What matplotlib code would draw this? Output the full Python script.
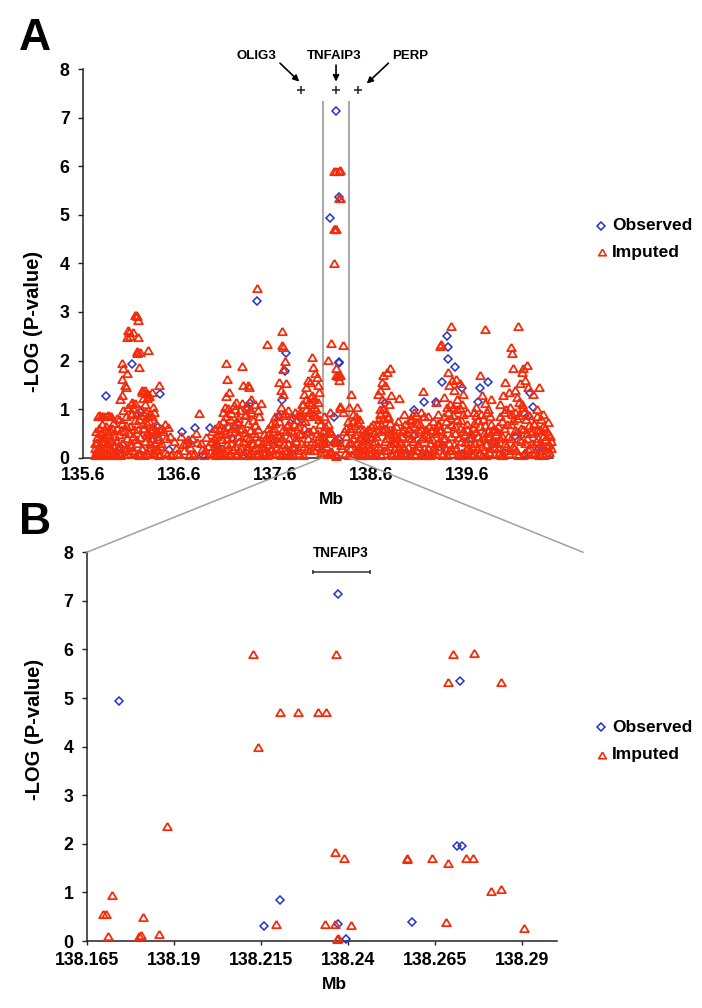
import matplotlib
matplotlib.use('Agg')
import matplotlib.pyplot as plt
from matplotlib.lines import Line2D
from matplotlib.patches import ConnectionPatch

plt.rcParams['font.family'] = ['Liberation Sans', 'DejaVu Sans']
plt.rcParams['font.weight'] = 'bold'

# ---------------- panel A data (Mb, -log10 p) ----------------
obs_a_mb = [135.836, 136.114, 136.403, 136.194, 136.386, 136.630, 136.770, 136.920, 137.418, 137.338,
            137.115, 137.220, 137.310, 137.713, 137.706, 137.672, 137.644, 137.793, 137.870, 138.749,
            139.159, 139.051, 139.281, 139.399, 139.410, 139.410, 139.479, 139.340, 139.548, 139.440,
            139.827, 139.740, 139.722, 140.261, 140.289, 140.240,
            135.750, 135.900, 136.000, 136.200, 136.300, 136.500, 136.700, 136.850, 137.000, 137.150,
            137.300, 137.500, 137.600, 137.800, 137.950, 138.050, 138.450, 138.550, 138.650, 138.850,
            138.950, 139.050, 139.200, 139.350, 139.550, 139.650, 139.750, 139.900, 140.000, 140.100,
            140.200, 140.350, 140.450]
obs_a_lp = [1.27, 1.93, 1.32, 0.95, 0.64, 0.52, 0.62, 0.62, 3.22, 1.12,
            0.64, 0.70, 1.05, 2.15, 1.78, 1.19, 0.86, 0.82, 0.79, 1.12,
            1.15, 0.99, 1.15, 2.50, 2.28, 2.03, 1.86, 1.55, 1.43, 0.78,
            1.56, 1.43, 1.15, 1.34, 1.05, 0.85,
            0.10, 0.30, 0.20, 0.05, 0.45, 0.15, 0.30, 0.05, 0.25, 0.40,
            0.10, 0.05, 0.35, 0.15, 0.50, 0.20, 0.10, 0.40, 0.05, 0.30,
            0.05, 0.45, 0.05, 0.25, 0.08, 0.40, 0.05, 0.30, 0.10, 0.45,
            0.05, 0.20, 0.10]

imp_a_mb = [
    # 135.72 - 135.92
    135.72, 135.73, 135.74, 135.75, 135.76, 135.77, 135.78, 135.79, 135.80, 135.81,
    135.82, 135.83, 135.84, 135.85, 135.86, 135.87, 135.88, 135.89, 135.90, 135.91,
    135.725, 135.735, 135.745, 135.755, 135.765, 135.775, 135.785, 135.795, 135.805, 135.815,
    135.825, 135.835, 135.845, 135.855, 135.865, 135.875, 135.885, 135.895, 135.905, 135.915,
    135.755, 135.77, 135.785, 135.80, 135.815, 135.85, 135.865, 135.88, 135.895, 135.95,
    # 135.93 - 136.40 peak
    136.142, 136.150, 136.160, 136.170, 136.073, 136.080, 136.055, 136.090, 136.125, 136.177,
    136.194, 136.160, 136.165, 136.281, 136.003, 136.020, 136.055, 136.003, 136.038, 136.045,
    136.187, 136.392, 136.212, 136.220, 136.246, 136.255, 136.281, 136.290, 136.316, 136.228,
    136.263, 136.125, 136.100, 136.330, 136.340, 136.300, 136.270, 135.985, 136.010, 136.110,
    135.930, 135.942, 135.954, 135.966, 135.978, 135.990, 136.002, 136.014, 136.026, 136.038,
    136.050, 136.062, 136.074, 136.086, 136.098, 136.110, 136.122, 136.134, 136.146, 136.158,
    136.170, 136.182, 136.194, 136.206, 136.218, 136.230, 136.242, 136.254, 136.266, 136.278,
    136.290, 136.302, 136.314, 136.326, 136.338, 136.350, 136.362, 136.374, 136.386, 136.398,
    135.936, 135.948, 135.960, 135.972, 135.984, 135.996, 136.008, 136.020, 136.032, 136.044,
    136.056, 136.068, 136.080, 136.092, 136.104, 136.116, 136.128, 136.140, 136.152, 136.164,
    136.176, 136.188, 136.200, 136.212, 136.224, 136.236, 136.248, 136.260, 136.272, 136.284,
    136.296, 136.308, 136.320, 136.332, 136.344, 136.356, 136.368, 136.380, 136.392, 136.404,
    # 136.41 - 136.95
    136.41, 136.43, 136.45, 136.47, 136.49, 136.52, 136.55, 136.57, 136.60, 136.62,
    136.65, 136.67, 136.70, 136.72, 136.74, 136.76, 136.79, 136.81, 136.84, 136.86,
    136.88, 136.90, 136.92, 136.94, 136.42, 136.46, 136.48, 136.51, 136.58, 136.64,
    136.69, 136.75, 136.78, 136.83, 136.87, 136.93,
    # 136.96 - 137.45
    137.088, 137.105, 137.122, 137.095, 137.080, 137.261, 137.272, 137.324, 137.330, 137.453,
    137.411, 137.350, 137.200, 137.180, 137.300, 137.390, 137.420,
    136.960, 136.972, 136.984, 136.996, 137.008, 137.020, 137.032, 137.044, 137.056, 137.068,
    137.080, 137.092, 137.104, 137.116, 137.128, 137.140, 137.152, 137.164, 137.176, 137.188,
    137.200, 137.212, 137.224, 137.236, 137.248, 137.260, 137.272, 137.284, 137.296, 137.308,
    137.320, 137.332, 137.344, 137.356, 137.368, 137.380, 137.392, 137.404, 137.416, 137.428,
    136.966, 136.978, 136.990, 137.002, 137.014, 137.026, 137.038, 137.050, 137.062, 137.074,
    137.086, 137.098, 137.110, 137.122, 137.134, 137.146, 137.158, 137.170, 137.182, 137.194,
    137.206, 137.218, 137.230, 137.242, 137.254, 137.266, 137.278, 137.290, 137.302, 137.314,
    137.326, 137.338, 137.350, 137.362, 137.374, 137.386, 137.398, 137.410, 137.422, 137.434,
    # 137.46 - 138.10
    137.515, 137.679, 137.672, 137.689, 137.706, 137.682, 137.647, 137.717, 137.682, 137.660,
    137.741, 137.900, 137.930, 137.950, 137.984, 138.000, 138.020, 138.035, 137.970, 138.050,
    138.060, 137.990, 138.010, 137.960, 137.880, 137.860, 137.560, 137.600,
    137.460, 137.473, 137.486, 137.499, 137.512, 137.525, 137.538, 137.551, 137.564, 137.577,
    137.590, 137.603, 137.616, 137.629, 137.642, 137.655, 137.668, 137.681, 137.694, 137.707,
    137.720, 137.733, 137.746, 137.759, 137.772, 137.785, 137.798, 137.811, 137.824, 137.837,
    137.850, 137.863, 137.876, 137.889, 137.902, 137.915, 137.928, 137.941, 137.954, 137.967,
    137.980, 137.993, 138.006, 138.019, 138.032, 138.045, 138.058, 138.071, 138.084, 138.097,
    137.466, 137.479, 137.492, 137.505, 137.518, 137.531, 137.544, 137.557, 137.570, 137.583,
    137.596, 137.609, 137.622, 137.635, 137.648, 137.661, 137.674, 137.687, 137.700, 137.713,
    137.726, 137.739, 137.752, 137.765, 137.778, 137.791, 137.804, 137.817, 137.830, 137.843,
    137.856, 137.869, 137.882, 137.895, 137.908, 137.921, 137.934, 137.947, 137.960, 137.973,
    137.986, 137.999, 138.012, 138.025, 138.038, 138.051, 138.064, 138.077, 138.090, 138.103,
    # inside the boxed region, outside panel B
    138.158, 138.315, 138.105, 138.115, 138.125, 138.135, 138.145, 138.155, 138.112, 138.130,
    138.150, 138.305, 138.318, 138.330, 138.345, 138.360, 138.372, 138.312, 138.338, 138.365,
    # 138.38 - 138.63
    138.391, 138.377, 138.454, 138.523, 138.420, 138.480,
    138.380, 138.393, 138.406, 138.419, 138.432, 138.445, 138.458, 138.471, 138.484, 138.497,
    138.510, 138.523, 138.536, 138.549, 138.562, 138.575, 138.588, 138.601, 138.614, 138.627,
    138.386, 138.399, 138.412, 138.425, 138.438, 138.451, 138.464, 138.477, 138.490, 138.503,
    138.516, 138.529, 138.542, 138.555, 138.568, 138.581, 138.594, 138.607, 138.620, 138.633,
    # 138.63 - 138.90
    138.801, 138.766, 138.732, 138.714, 138.680, 138.696, 138.732, 138.784, 138.898, 138.750,
    138.720, 138.790, 138.810, 138.700,
    138.640, 138.653, 138.666, 138.679, 138.692, 138.705, 138.718, 138.731, 138.744, 138.757,
    138.770, 138.783, 138.796, 138.809, 138.822, 138.835, 138.848, 138.861, 138.874, 138.887,
    138.646, 138.659, 138.672, 138.685, 138.698, 138.711, 138.724, 138.737, 138.750, 138.763,
    138.776, 138.789, 138.802, 138.815, 138.828, 138.841, 138.854, 138.867, 138.880, 138.893,
    # 138.90 - 139.32
    139.142, 139.281, 139.300, 139.050, 139.120, 139.200, 138.950, 139.010,
    138.900, 138.914, 138.928, 138.942, 138.956, 138.970, 138.984, 138.998, 139.012, 139.026,
    139.040, 139.054, 139.068, 139.082, 139.096, 139.110, 139.124, 139.138, 139.152, 139.166,
    139.180, 139.194, 139.208, 139.222, 139.236, 139.250, 139.264, 139.278, 139.292, 139.306,
    138.907, 138.921, 138.935, 138.949, 138.963, 138.977, 138.991, 139.005, 139.019, 139.033,
    139.047, 139.061, 139.075, 139.089, 139.103, 139.117, 139.131, 139.145, 139.159, 139.173,
    139.187, 139.201, 139.215, 139.229, 139.243, 139.257, 139.271, 139.285, 139.299, 139.313,
    # 139.32 - 139.63
    139.434, 139.333, 139.325, 139.410, 139.489, 139.531, 139.566, 139.531, 139.392, 139.450,
    139.470, 139.420, 139.500, 139.360, 139.550, 139.600,
    139.320, 139.334, 139.348, 139.362, 139.376, 139.390, 139.404, 139.418, 139.432, 139.446,
    139.460, 139.474, 139.488, 139.502, 139.516, 139.530, 139.544, 139.558, 139.572, 139.586,
    139.600, 139.614,
    139.327, 139.341, 139.355, 139.369, 139.383, 139.397, 139.411, 139.425, 139.439, 139.453,
    139.467, 139.481, 139.495, 139.509, 139.523, 139.537, 139.551, 139.565, 139.579, 139.593,
    139.607, 139.621,
    # 139.63 - 139.91
    139.792, 139.740, 139.792, 139.760, 139.700, 139.820, 139.850, 139.680,
    139.630, 139.644, 139.658, 139.672, 139.686, 139.700, 139.714, 139.728, 139.742, 139.756,
    139.770, 139.784, 139.798, 139.812, 139.826, 139.840, 139.854, 139.868, 139.882, 139.896,
    139.637, 139.651, 139.665, 139.679, 139.693, 139.707, 139.721, 139.735, 139.749, 139.763,
    139.777, 139.791, 139.805, 139.819, 139.833, 139.847, 139.861, 139.875, 139.889, 139.903,
    # 139.91 - 140.26
    140.139, 140.063, 140.070, 140.080, 140.226, 140.174, 140.185, 140.000, 140.157, 139.983,
    140.191, 140.100, 140.120, 140.040, 140.210, 139.950, 140.240,
    139.910, 139.924, 139.938, 139.952, 139.966, 139.980, 139.994, 140.008, 140.022, 140.036,
    140.050, 140.064, 140.078, 140.092, 140.106, 140.120, 140.134, 140.148, 140.162, 140.176,
    140.190, 140.204, 140.218, 140.232, 140.246,
    139.917, 139.931, 139.945, 139.959, 139.973, 139.987, 140.001, 140.015, 140.029, 140.043,
    140.057, 140.071, 140.085, 140.099, 140.113, 140.127, 140.141, 140.155, 140.169, 140.183,
    140.197, 140.211, 140.225, 140.239, 140.253,
    # 140.26 - 140.48
    140.358, 140.452, 140.295, 140.330, 140.400,
    140.265, 140.279, 140.293, 140.307, 140.321, 140.335, 140.349, 140.363, 140.377, 140.391,
    140.405, 140.419, 140.433, 140.447, 140.461, 140.475,
    140.272, 140.286, 140.300, 140.314, 140.328, 140.342, 140.356, 140.370, 140.384, 140.398,
    140.412, 140.426, 140.440, 140.454, 140.468, 140.480,
]
imp_a_lp = [
    # 135.72 - 135.92
    0.05, 0.30, 0.12, 0.42, 0.08, 0.25, 0.50, 0.15, 0.35, 0.05,
    0.45, 0.20, 0.10, 0.55, 0.30, 0.08, 0.40, 0.18, 0.62, 0.05,
    0.20, 0.55, 0.32, 0.05, 0.62, 0.28, 0.40, 0.70, 0.12, 0.45,
    0.05, 0.66, 0.30, 0.10, 0.48, 0.22, 0.58, 0.35, 0.15, 0.72,
    0.86, 0.87, 0.86, 0.85, 0.86, 0.86, 0.87, 0.86, 0.85, 0.81,
    # 135.93 - 136.40 peak
    2.94, 2.93, 2.91, 2.83, 2.63, 2.58, 2.49, 2.50, 2.59, 2.49,
    2.18, 2.15, 2.20, 2.21, 1.94, 1.84, 1.74, 1.61, 1.50, 1.45,
    1.86, 1.50, 1.36, 1.40, 1.39, 1.33, 1.32, 1.28, 1.36, 1.22,
    1.22, 1.02, 1.10, 1.05, 0.95, 0.90, 0.85, 1.20, 1.30, 1.15,
    0.10, 0.35, 0.62, 0.20, 0.48, 0.05, 0.72, 0.30, 0.55, 0.15,
    0.85, 0.40, 0.08, 0.66, 0.25, 0.92, 0.45, 0.12, 0.78, 0.30,
    0.60, 0.05, 0.42, 0.88, 0.18, 0.70, 0.35, 0.95, 0.10, 0.52,
    0.75, 0.22, 0.40, 0.65, 0.08, 0.32, 0.55, 0.15, 0.45, 0.25,
    0.45, 0.05, 0.25, 0.80, 0.12, 0.58, 0.30, 0.98, 0.08, 0.68,
    0.22, 1.05, 0.50, 0.28, 0.90, 0.15, 0.60, 1.12, 0.38, 0.95,
    0.10, 0.80, 1.00, 0.20, 0.62, 0.05, 1.10, 0.48, 0.72, 0.15,
    0.30, 0.58, 0.85, 0.12, 0.50, 0.70, 0.20, 0.38, 0.05, 0.60,
    # 136.41 - 136.95
    0.30, 0.55, 0.12, 0.40, 0.64, 0.05, 0.35, 0.20, 0.08, 0.45,
    0.15, 0.30, 0.05, 0.22, 0.40, 0.10, 0.33, 0.91, 0.18, 0.05,
    0.42, 0.25, 0.12, 0.55, 0.62, 0.70, 0.08, 0.45, 0.10, 0.28,
    0.38, 0.05, 0.50, 0.30, 0.15, 0.35,
    # 136.96 - 137.45
    1.94, 1.62, 1.36, 1.26, 1.05, 1.89, 1.50, 1.50, 1.46, 1.13,
    3.50, 1.20, 1.15, 1.00, 1.05, 1.10, 0.98,
    0.08, 0.30, 0.15, 0.45, 0.22, 0.60, 0.05, 0.38, 0.75, 0.12,
    0.50, 0.85, 0.28, 0.65, 0.10, 0.92, 0.40, 0.18, 0.70, 0.55,
    0.05, 0.82, 0.35, 0.98, 0.20, 0.62, 0.08, 0.88, 0.42, 0.25,
    0.72, 0.05, 0.58, 0.95, 0.30, 0.15, 0.68, 0.45, 0.10, 0.35,
    0.40, 0.62, 0.05, 0.25, 0.70, 0.10, 0.48, 0.20, 0.95, 0.58,
    0.15, 0.40, 1.02, 0.05, 0.80, 0.30, 0.62, 1.08, 0.25, 0.10,
    0.75, 0.45, 0.15, 0.60, 1.12, 0.35, 0.05, 0.52, 0.90, 0.18,
    0.40, 1.00, 0.12, 0.30, 0.78, 0.50, 0.22, 0.05, 0.60, 0.85,
    # 137.46 - 138.10
    2.35, 2.61, 2.32, 2.28, 1.98, 1.82, 1.56, 1.53, 1.32, 1.40,
    0.98, 1.32, 1.45, 1.60, 2.08, 1.87, 1.74, 1.67, 1.55, 1.50,
    1.35, 1.30, 1.20, 1.15, 1.10, 0.95, 0.70, 0.85,
    0.05, 0.25, 0.48, 0.12, 0.35, 0.62, 0.08, 0.40, 0.20, 0.55,
    0.30, 0.72, 0.10, 0.85, 0.45, 0.18, 1.05, 0.60, 0.28, 0.92,
    0.12, 0.70, 0.40, 0.05, 0.80, 0.52, 0.22, 0.95, 0.35, 0.65,
    0.10, 0.88, 0.48, 1.10, 0.25, 0.75, 1.20, 0.40, 0.95, 0.15,
    1.25, 0.60, 1.05, 0.30, 0.85, 1.15, 0.45, 0.70, 0.20, 0.55,
    0.30, 0.10, 0.20, 0.42, 0.05, 0.28, 0.50, 0.15, 0.38, 0.08,
    0.62, 0.20, 0.48, 0.35, 0.75, 0.05, 0.40, 0.88, 0.15, 0.55,
    0.65, 0.30, 0.10, 0.58, 0.25, 0.05, 0.70, 0.42, 0.15, 0.90,
    0.50, 0.30, 0.75, 0.05, 0.62, 1.00, 0.20, 0.85, 0.55, 1.10,
    0.35, 0.90, 0.15, 1.00, 0.50, 0.25, 0.80, 0.10, 0.45, 0.30,
    # inside the boxed region, outside panel B
    2.02, 2.32, 0.40, 0.12, 0.65, 0.25, 0.50, 0.08, 0.85, 0.35,
    0.70, 0.20, 0.55, 0.10, 0.45, 0.75, 0.30, 0.95, 0.62, 0.05,
    # 138.38 - 138.63
    1.32, 1.05, 1.05, 0.60, 0.90, 0.80,
    0.20, 0.55, 0.08, 0.40, 0.68, 0.15, 0.30, 0.72, 0.05, 0.45,
    0.25, 0.10, 0.50, 0.35, 0.05, 0.60, 0.20, 0.42, 0.12, 0.70,
    0.62, 0.30, 0.75, 0.10, 0.48, 0.85, 0.22, 0.40, 0.62, 0.15,
    0.05, 0.38, 0.20, 0.55, 0.28, 0.10, 0.45, 0.65, 0.30, 0.50,
    # 138.63 - 138.90
    1.84, 1.77, 1.70, 1.56, 1.32, 1.39, 1.02, 0.81, 1.22, 1.50,
    1.20, 1.10, 1.30, 1.00,
    0.10, 0.45, 0.70, 0.25, 0.90, 0.05, 0.60, 0.82, 0.35, 0.95,
    0.15, 0.55, 0.72, 0.30, 0.05, 0.48, 0.20, 0.65, 0.10, 0.40,
    0.35, 0.05, 0.55, 0.80, 0.20, 0.68, 1.00, 0.15, 0.62, 0.40,
    0.85, 0.25, 0.50, 0.10, 0.60, 0.30, 0.45, 0.08, 0.75, 0.22,
    # 138.90 - 139.32
    1.37, 1.15, 0.90, 0.95, 0.95, 0.85, 0.90, 0.80,
    0.30, 0.05, 0.55, 0.20, 0.70, 0.12, 0.40, 0.62, 0.05, 0.80,
    0.35, 0.50, 0.15, 0.72, 0.25, 0.05, 0.60, 0.40, 0.85, 0.10,
    0.48, 0.20, 0.65, 0.05, 0.38, 0.75, 0.15, 0.55, 0.30, 0.68,
    0.10, 0.45, 0.25, 0.60, 0.08, 0.50, 0.22, 0.78, 0.40, 0.15,
    0.65, 0.05, 0.88, 0.30, 0.55, 0.70, 0.12, 0.45, 0.20, 0.60,
    0.05, 0.42, 0.30, 0.58, 0.10, 0.25, 0.50, 0.08, 0.72, 0.35,
    # 139.32 - 139.63
    2.71, 2.35, 2.30, 1.77, 1.63, 1.53, 1.32, 1.02, 1.05, 1.60,
    1.40, 1.50, 1.20, 1.25, 1.10, 0.95,
    0.25, 0.60, 0.10, 0.85, 0.40, 0.05, 0.95, 0.30, 0.70, 0.15,
    1.05, 0.50, 0.20, 0.80, 0.05, 0.62, 0.35, 0.90, 0.12, 0.48,
    0.70, 0.22,
    0.55, 0.05, 0.40, 0.20, 0.75, 0.62, 0.15, 1.10, 0.45, 0.88,
    0.28, 0.65, 1.00, 0.10, 0.42, 0.78, 0.05, 0.55, 0.32, 0.18,
    0.60, 0.40,
    # 139.63 - 139.91
    2.64, 1.70, 1.12, 1.30, 1.05, 1.00, 1.20, 0.95,
    0.15, 0.50, 0.05, 0.72, 0.30, 0.88, 0.45, 0.10, 0.65, 0.25,
    0.80, 0.40, 0.05, 0.95, 0.55, 0.20, 0.70, 0.35, 0.08, 0.60,
    0.40, 0.25, 0.62, 0.10, 0.55, 0.20, 0.78, 0.35, 0.90, 0.05,
    0.50, 0.68, 0.28, 0.45, 0.12, 0.85, 0.38, 0.60, 0.22, 0.48,
    # 139.91 - 140.26
    2.71, 2.27, 2.15, 1.84, 1.91, 1.77, 1.84, 1.56, 1.53, 1.29,
    1.05, 1.40, 1.25, 1.35, 1.60, 1.10, 1.45,
    0.30, 0.65, 0.10, 0.85, 0.45, 0.05, 0.95, 0.25, 0.70, 0.15,
    1.05, 0.40, 0.78, 0.20, 0.95, 0.55, 0.05, 0.88, 0.35, 1.10,
    0.60, 0.12, 0.80, 0.40, 0.68,
    0.55, 0.20, 0.40, 0.05, 0.75, 0.62, 0.30, 1.00, 0.45, 0.10,
    0.70, 0.90, 0.25, 0.58, 0.15, 0.82, 1.15, 0.38, 0.62, 0.05,
    0.95, 0.30, 0.50, 0.18, 0.88,
    # 140.26 - 140.48
    1.46, 0.74, 1.32, 1.00, 0.90,
    0.20, 0.55, 0.08, 0.70, 0.35, 0.85, 0.15, 0.60, 0.30, 0.45,
    0.05, 0.62, 0.25, 0.48, 0.12, 0.35,
    0.50, 0.30, 0.72, 0.12, 0.58, 0.40, 0.05, 0.80, 0.22, 0.65,
    0.38, 0.10, 0.55, 0.28, 0.45, 0.20,
]
assert len(imp_a_mb) == len(imp_a_lp), (len(imp_a_mb), len(imp_a_lp))

# ---------------- panel B data (zoom on TNFAIP3) ----------------
obs_b_mb = [138.1743, 138.2158, 138.2206, 138.2373, 138.2721, 138.2713, 138.2728, 138.2371, 138.2394, 138.2585]
obs_b_lp = [4.94, 0.30, 0.84, 7.14, 5.36, 1.95, 1.96, 0.35, 0.04, 0.39]

imp_b_mb = [138.1722, 138.1698, 138.1704, 138.1712, 138.1801, 138.1805, 138.1813, 138.1857, 138.1881, 138.2129,
            138.2143, 138.2195, 138.2206, 138.2258, 138.2314, 138.2337, 138.2366, 138.2701, 138.2763, 138.2689,
            138.2840, 138.2364, 138.2388, 138.2569, 138.2571, 138.2641, 138.2688, 138.2739, 138.2759, 138.2811,
            138.2841, 138.2905, 138.2335, 138.2363, 138.2408, 138.2369, 138.2372, 138.2683]
imp_b_lp = [0.95, 0.55, 0.55, 0.10, 0.10, 0.12, 0.50, 0.14, 2.37, 5.90,
            4.00, 0.35, 4.71, 4.71, 4.71, 4.71, 5.90, 5.90, 5.92, 5.34,
            5.34, 1.84, 1.70, 1.69, 1.70, 1.70, 1.60, 1.70, 1.70, 1.03,
            1.06, 0.27, 0.35, 0.35, 0.32, 0.04, 0.06, 0.40]

a_ticks = [135.6, 136.6, 137.6, 138.6, 139.6]
b_ticks = [138.165, 138.19, 138.215, 138.24, 138.265, 138.29]
b_tick_labels = ['138.165', '138.19', '138.215', '138.24', '138.265', '138.29']

genes = ['OLIG3', 'TNFAIP3', 'PERP']
gene_mb = [137.870, 138.238, 138.470]
tnfaip3_span = [138.2299, 138.2463]
zoom_box = [138.10, 138.377]

BLUE = '#2233cc'
RED = '#f52c0c'
TRI = [(0, 0.85), (-1, -0.85), (1, -0.85), (0, 0.85)]
W, H = 702, 1008

fig = plt.figure(figsize=(W / 100, H / 100), dpi=100)
axA = fig.add_axes([83 / W, 1 - 457.7 / H, 470 / W, 388.7 / H])
axB = fig.add_axes([86.7 / W, 1 - 941 / H, 470 / W, 388.7 / H])


def style(ax):
    for s in ['top', 'right']:
        ax.spines[s].set_visible(False)
    for s in ['left', 'bottom']:
        ax.spines[s].set_color('#222222')
        ax.spines[s].set_linewidth(1.1)
    ax.set_ylim(0, 8)
    ax.set_yticks(range(9))
    ax.tick_params(axis='both', labelsize=12.8, direction='out', width=1.0, color='#222222')
    ax.tick_params(axis='y', length=3.6, pad=6)
    ax.set_ylabel('-LOG (P-value)', fontsize=14.5, fontweight='bold')


def points(ax, mb, lp, kind):
    if kind == 'obs':
        ax.plot(mb, lp, ls='none', marker='D', ms=3.7, mfc='none', mec=BLUE, mew=1.1,
                clip_on=False, zorder=3)
    else:
        ax.plot(mb, lp, ls='none', marker=TRI, ms=6.2, mfc='none', mec=RED, mew=1.3,
                clip_on=False, zorder=4)


def legend(y_obs, y_imp):
    fig.add_artist(Line2D([601 / W], [1 - y_obs / H], transform=fig.transFigure, ls='none',
                          marker='D', ms=3.6, mfc='none', mec=BLUE, mew=1.1))
    fig.add_artist(Line2D([602 / W], [1 - y_imp / H], transform=fig.transFigure, ls='none',
                          marker=TRI, ms=5.5, mfc='none', mec=RED, mew=1.2))
    fig.text(612 / W, 1 - y_obs / H, 'Observed', fontsize=12.5, fontweight='bold', va='center')
    fig.text(612 / W, 1 - y_imp / H, 'Imputed', fontsize=12.5, fontweight='bold', va='center')


# ---- panel A ----
style(axA)
axA.set_xlim(135.6, 140.5)
axA.set_xticks(a_ticks)
axA.set_xticklabels([f'{t:.1f}' for t in a_ticks])
axA.tick_params(axis='x', length=0, pad=7)
axA.set_xlabel('Mb', fontsize=12.5, fontweight='bold')
axA.xaxis.set_label_coords(0.529, -0.088)
axA.yaxis.set_label_coords(-0.085, 0.35)

axA.vlines(zoom_box, 0, 7.35, colors='#a0a0a0', lw=1.3, zorder=1)
points(axA, obs_a_mb + obs_b_mb, obs_a_lp + obs_b_lp, 'obs')
points(axA, imp_a_mb + imp_b_mb, imp_a_lp + imp_b_lp, 'imp')

axA.plot(gene_mb, [7.57] * len(gene_mb), ls='none', marker='+', ms=6, mew=1.1,
         color='#222222', clip_on=False)
label_pos = [(137.411, 8.26), (138.214, 8.26), (139.015, 8.26)]
arrow_tail = [(137.654, 8.12), (138.238, 8.08), (138.784, 8.12)]
arrow_tip = [(137.855, 7.74), (138.238, 7.74), (138.558, 7.70)]
for name, lab, tail, tip in zip(genes, label_pos, arrow_tail, arrow_tip):
    axA.text(lab[0], lab[1], name, ha='center', va='center', fontsize=9.5,
             fontweight='bold', clip_on=False)
    axA.annotate('', xy=tip, xytext=tail, annotation_clip=False,
                 arrowprops=dict(arrowstyle='-|>', color='black', lw=1.2,
                                 mutation_scale=9, shrinkA=0, shrinkB=0))

# ---- panel B ----
style(axB)
axB.set_xlim(138.165, 138.30)
axB.set_xticks(b_ticks)
axB.set_xticklabels(b_tick_labels)
axB.tick_params(axis='x', length=3, pad=5)
axB.set_xlabel('Mb', fontsize=12.5, fontweight='bold')
axB.xaxis.set_label_coords(0.528, -0.093)
axB.yaxis.set_label_coords(-0.091, 0.543)

points(axB, obs_b_mb, obs_b_lp, 'obs')
points(axB, imp_b_mb, imp_b_lp, 'imp')
axB.plot(tnfaip3_span, [7.6, 7.6], color='#333333', lw=1.1, marker='|', ms=3, mew=1.1)
axB.text(sum(tnfaip3_span) / 2, 7.98, 'TNFAIP3', ha='center', va='center',
         fontsize=9.8, fontweight='bold')

# zoom connector lines
for xa, xb in [(zoom_box[0], 138.165), (zoom_box[1], 138.3076)]:
    con = ConnectionPatch(xyA=(xa, 0), coordsA=axA.transData, xyB=(xb, 8), coordsB=axB.transData,
                          color='#a0a0a0', lw=1.1)
    fig.add_artist(con)

legend(226, 252)
legend(727, 755)

fig.text(35 / W, 1 - 39 / H, 'A', fontsize=32, fontweight='bold', ha='center', va='center')
fig.text(35 / W, 1 - 523 / H, 'B', fontsize=32, fontweight='bold', ha='center', va='center')

fig.savefig('out.png', dpi=100)
